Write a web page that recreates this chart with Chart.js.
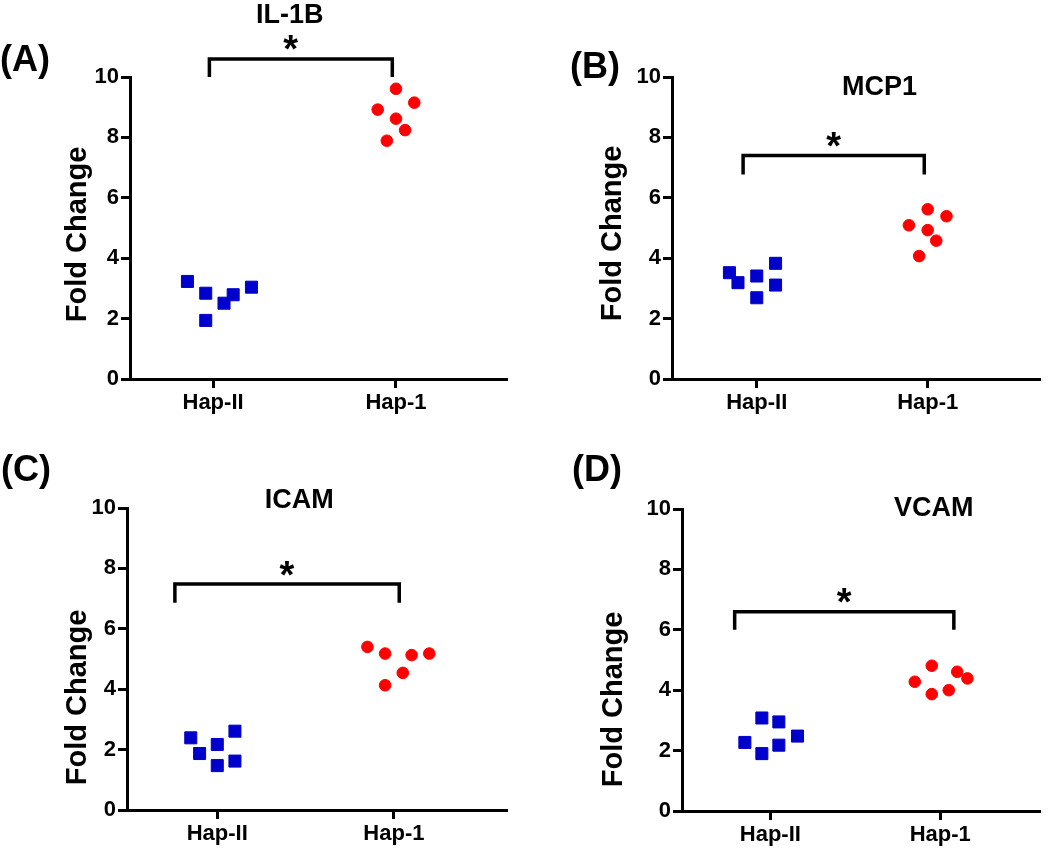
<!DOCTYPE html>
<html>
<head>
<meta charset="utf-8">
<script src="https://cdn.jsdelivr.net/npm/chart.js@4.4.1/dist/chart.umd.min.js"></script>
<style>
  body { margin: 0; background: #fff; }
  #wrap { position: relative; width: 1050px; height: 849px; }
  canvas { position: absolute; }
</style>
</head>
<body>
<div id="wrap">
  <canvas id="chartA" width="525" height="420" style="left:0;top:0"></canvas>
  <canvas id="chartB" width="525" height="420" style="left:525px;top:0"></canvas>
  <canvas id="chartC" width="525" height="429" style="left:0;top:420px"></canvas>
  <canvas id="chartD" width="525" height="429" style="left:525px;top:420px"></canvas>
</div>
<script>
const groups = ['Hap-II', 'Hap-1'];

// IL-1B
const il1bHapII = [3.23, 2.84, 2.51, 2.79, 3.04, 1.94];
const il1bHapIIJitter = [-0.14, -0.04, 0.06, 0.11, 0.21, -0.04];
const il1bHap1 = [9.61, 9.15, 8.92, 8.62, 8.24, 7.89];
const il1bHap1Jitter = [0.0, 0.10, -0.10, 0.0, 0.05, -0.05];

// MCP1
const mcp1HapII = [3.52, 3.19, 3.41, 3.83, 3.11, 2.69];
const mcp1HapIIJitter = [-0.16, -0.11, 0.0, 0.11, 0.11, 0.0];
const mcp1Hap1 = [5.62, 5.39, 5.09, 4.93, 4.58, 4.07];
const mcp1Hap1Jitter = [0.0, 0.11, -0.11, 0.0, 0.05, -0.05];

// ICAM
const icamHapII = [2.39, 1.87, 2.17, 2.61, 1.47, 1.62];
const icamHapIIJitter = [-0.15, -0.10, 0.0, 0.10, 0.0, 0.10];
const icamHap1 = [5.40, 5.18, 5.13, 5.18, 4.54, 4.13];
const icamHap1Jitter = [-0.15, -0.05, 0.10, 0.20, 0.05, -0.05];

// VCAM
const vcamHapII = [2.27, 3.08, 1.90, 2.95, 2.18, 2.48];
const vcamHapIIJitter = [-0.15, -0.05, -0.05, 0.05, 0.05, 0.16];
const vcamHap1 = [4.28, 4.81, 3.87, 4.00, 4.61, 4.39];
const vcamHap1Jitter = [-0.15, -0.05, -0.05, 0.05, 0.10, 0.16];

// significance brackets: [x from, x to, y top, y leg end]
const il1bBracket = [0.98, 1.98, 10.6, 10.0];
const mcp1Bracket = [0.92, 1.98, 7.4, 6.77];
const icamBracket = [0.76, 2.03, 7.48, 6.86];
const vcamBracket = [0.79, 2.08, 6.6, 6.0];

const yTicks = [0, 2, 4, 6, 8, 10];

const FONT = '"Liberation Sans", Arial, sans-serif';

function centerText(ctx, str, cx, cy) {
  const m = ctx.measureText(str);
  const x = cx - (m.actualBoundingBoxRight - m.actualBoundingBoxLeft) / 2;
  const y = cy + (m.actualBoundingBoxAscent - m.actualBoundingBoxDescent) / 2;
  ctx.fillText(str, x, y);
}

const annotate = {
  id: 'annotate',
  afterDraw(chart, args, o) {
    const {ctx, scales: {x, y}} = chart;
    ctx.save();
    ctx.fillStyle = '#000';
    ctx.strokeStyle = '#000';
    ctx.textAlign = 'left';
    ctx.textBaseline = 'alphabetic';

    // bracket
    const b = o.bracket;
    const x1 = x.getPixelForValue(b[0]), x2 = x.getPixelForValue(b[1]);
    const yt = y.getPixelForValue(b[2]), yb = y.getPixelForValue(b[3]);
    ctx.lineWidth = 3.5;
    ctx.beginPath();
    ctx.moveTo(x1, yb); ctx.lineTo(x1, yt); ctx.lineTo(x2, yt); ctx.lineTo(x2, yb);
    ctx.stroke();

    ctx.font = 'bold 38px ' + FONT;
    centerText(ctx, '*', (x1 + x2) / 2 + (o.starDx || 0), yt - 16);

    ctx.font = 'bold 27px ' + FONT;
    centerText(ctx, o.title, o.titlePos[0], o.titlePos[1]);

    ctx.font = 'bold 36px ' + FONT;
    centerText(ctx, o.label, o.labelPos[0], o.labelPos[1]);

    ctx.font = 'bold 29px ' + FONT;
    ctx.translate(o.yTitlePos[0], o.yTitlePos[1]);
    ctx.rotate(-Math.PI / 2);
    centerText(ctx, 'Fold Change', 0, 0);
    ctx.restore();
  }
};

function points(values, jitter, group) {
  return values.map((v, i) => ({x: group + jitter[i], y: v}));
}

function makeChart(id, p) {
  const axisGrid = {
    display: true, drawOnChartArea: false, drawTicks: true,
    tickLength: 9, tickWidth: 3, tickColor: '#000'
  };
  const axisBorder = {display: true, color: '#000', width: 3};
  const tickFont = {family: FONT, size: 22, weight: 'bold'};

  return new Chart(document.getElementById(id), {
    type: 'scatter',
    data: {
      datasets: [{
        data: points(p.hapII, p.hapIIJitter, 1),
        pointStyle: 'rect',
        pointRadius: 8.5,
        backgroundColor: '#0000CC',
        borderColor: '#0000CC',
        borderWidth: 1
      }, {
        data: points(p.hap1, p.hap1Jitter, 2),
        pointStyle: 'circle',
        pointRadius: 5.8,
        backgroundColor: '#FF0000',
        borderColor: '#FF0000',
        borderWidth: 1
      }]
    },
    options: {
      responsive: false,
      animation: false,
      layout: {padding: {left: 0, top: p.top, right: p.right, bottom: 0}},
      plugins: {
        legend: {display: false},
        tooltip: {enabled: false},
        annotate: p.notes
      },
      scales: {
        x: {
          type: 'linear',
          min: p.xMin, max: p.xMax,
          afterBuildTicks: s => { s.ticks = [{value: 1}, {value: 2}]; },
          afterFit: s => { s.height = p.xHeight; },
          ticks: {
            color: '#000', font: tickFont, padding: 2,
            callback: v => groups[v - 1]
          },
          grid: axisGrid,
          border: axisBorder
        },
        y: {
          min: 0, max: 10,
          afterBuildTicks: s => { s.ticks = yTicks.map(v => ({value: v})); },
          afterFit: s => { s.width = p.yWidth; },
          ticks: {color: '#000', font: tickFont, padding: 2},
          grid: axisGrid,
          border: axisBorder
        }
      }
    },
    plugins: [annotate]
  });
}

makeChart('chartA', {
  hapII: il1bHapII, hapIIJitter: il1bHapIIJitter, hap1: il1bHap1, hap1Jitter: il1bHap1Jitter,
  top: 77, right: 18, yWidth: 130, xHeight: 41, xMin: 0.546, xMax: 2.607,
  notes: {bracket: il1bBracket, title: 'IL-1B', titlePos: [290, 13], label: '(A)', labelPos: [25, 61], yTitlePos: [78, 234], starDx: -10}
});

makeChart('chartB', {
  hapII: mcp1HapII, hapIIJitter: mcp1HapIIJitter, hap1: mcp1Hap1, hap1Jitter: mcp1Hap1Jitter,
  top: 77, right: 3, yWidth: 147, xHeight: 41, xMin: 0.504, xMax: 2.66,
  notes: {bracket: mcp1Bracket, title: 'MCP1', titlePos: [355, 85], label: '(B)', labelPos: [70, 68], yTitlePos: [88, 233]}
});

makeChart('chartC', {
  hapII: icamHapII, hapIIJitter: icamHapIIJitter, hap1: icamHap1, hap1Jitter: icamHap1Jitter,
  top: 88, right: 18, yWidth: 127, xHeight: 39, xMin: 0.489, xMax: 2.64,
  notes: {bracket: icamBracket, title: 'ICAM', titlePos: [299, 78], label: '(C)', labelPos: [26, 51], yTitlePos: [78, 277]}
});

makeChart('chartD', {
  hapII: vcamHapII, hapIIJitter: vcamHapIIJitter, hap1: vcamHap1, hap1Jitter: vcamHap1Jitter,
  top: 89, right: 3, yWidth: 157, xHeight: 38, xMin: 0.48, xMax: 2.59,
  notes: {bracket: vcamBracket, title: 'VCAM', titlePos: [408, 86], label: '(D)', labelPos: [72, 51], yTitlePos: [89, 279]}
});
</script>
</body>
</html>
